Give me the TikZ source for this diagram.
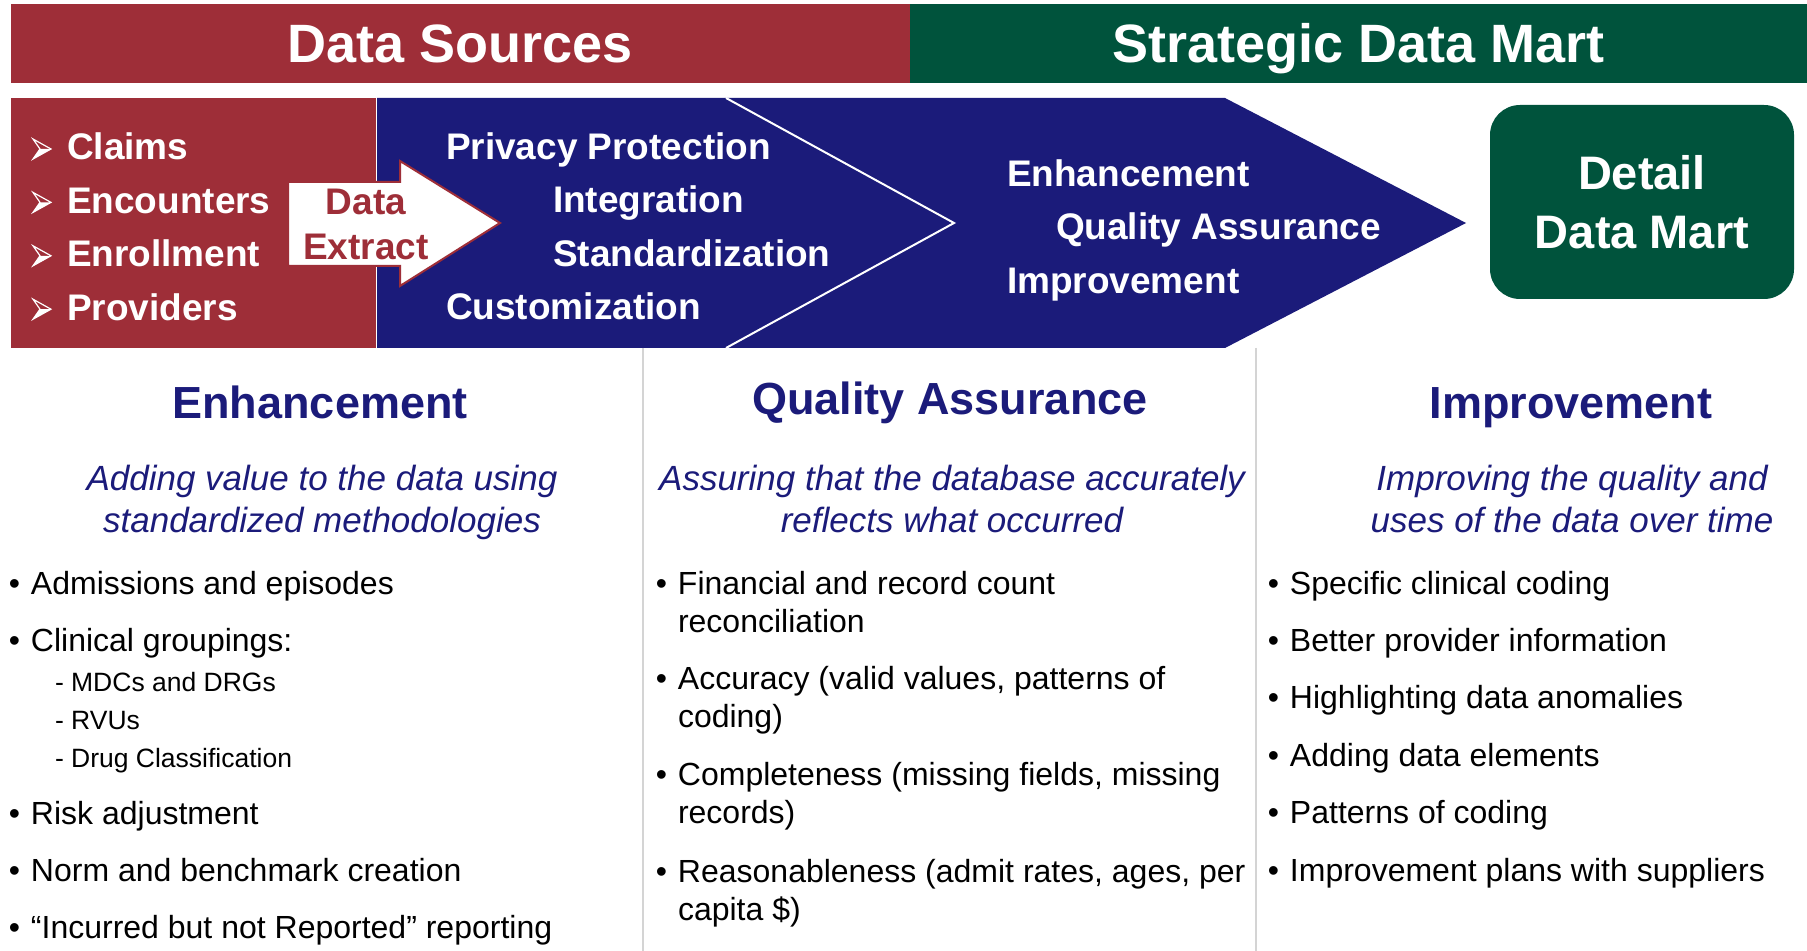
\documentclass[tikz,border=0pt]{standalone}
\usepackage{fontspec}
\setmainfont{Liberation Sans}
\usepackage{xcolor}
\usetikzlibrary{positioning}
\definecolor{SrcRed}{HTML}{9E2E38}
\definecolor{MartGreen}{HTML}{00533C}
\definecolor{FlowBlue}{HTML}{1B1B7A}
\definecolor{RuleGray}{HTML}{D4D4D4}

\begin{document}
\begin{tikzpicture}[x=0.5pt, y=-0.5pt,
    every node/.style={inner sep=0pt, outer sep=0pt},
    bannertext/.style={text=white, font=\fontsize{27}{32}\selectfont\bfseries,
                       text height=19.5pt, text depth=0pt, minimum height=39.5pt},
    boxtext/.style={anchor=base west, text=white, font=\fontsize{18.5}{22}\selectfont\bfseries},
    colhead/.style={anchor=base, text=FlowBlue, font=\fontsize{22.5}{27}\selectfont\bfseries},
    colsub/.style={anchor=base, align=center, text=FlowBlue, font=\fontsize{17.5}{20.75}\selectfont\itshape},
    bulletitem/.style={anchor=base west, align=left, font=\fontsize{16}{19}\selectfont},
    subitem/.style={anchor=base west, font=\fontsize{13.25}{16}\selectfont},
    sepline/.style={draw=RuleGray, line width=1pt},
    srcmark/.pic={
      \draw[white, line width=0.6pt, line join=miter] (-34,-21) -- (-16,-11) -- (-34,-1) -- (-27,-11) -- cycle;
      \fill[white] (-27,-11) -- (-16,-11) -- (-34,-1) -- cycle;
    }]
  \useasboundingbox (0,0) rectangle (1807,951);

  % header bars
  \node[bannertext, fill=SrcRed, minimum width=449.5pt] (srcbar) at (460.5,43.5) {Data Sources};
  \node[bannertext, fill=MartGreen, minimum width=448.5pt] (martbar) at (1358.5,43.5) {Strategic Data Mart};

  % source box, flow chevron, extract arrow
  \fill[SrcRed] (11,98) rectangle (375.5,348);
  \fill[FlowBlue] (377,98) -- (1225,98) -- (1466,223) -- (1225,348) -- (377,348) -- cycle;
  \draw[white, line width=1pt] (726,98) -- (954,223) -- (726,348);
  \filldraw[fill=white, draw=SrcRed, line width=1pt]
    (288,182) -- (400,182) -- (400,161) -- (500,223) -- (400,286) -- (400,266) -- (288,266) -- cycle;

  \node[boxtext] (claims) at (67,160) {Claims};
  \node[boxtext, below=26.7pt of claims.base west, anchor=base west] (encounters) {Encounters};
  \node[boxtext, below=26.7pt of encounters.base west, anchor=base west] (enrollment) {Enrollment};
  \node[boxtext, below=26.7pt of enrollment.base west, anchor=base west] (providers) {Providers};
  \pic at (claims.base west) {srcmark};
  \pic at (encounters.base west) {srcmark};
  \pic at (enrollment.base west) {srcmark};
  \pic at (providers.base west) {srcmark};

  % base of a multi-line node is its last line
  \node[anchor=base, align=center, text=SrcRed, font=\fontsize{18.5}{22.5}\selectfont\bfseries]
    (extract) at (366,260) {Data\\Extract};

  \node[boxtext] (privacy) at (446,160) {Privacy Protection};
  \node[boxtext] (integration) at (553,213) {Integration};
  \node[boxtext] (standard) at (553,266.5) {Standardization};
  \node[boxtext] (custom) at (446,320) {Customization};

  \node[boxtext] (enhance) at (1007,187) {Enhancement};
  \node[boxtext] (quality) at (1056,240) {Quality Assurance};
  \node[boxtext] (improve) at (1007,294) {Improvement};

  \node[fill=MartGreen, rounded corners=15pt, minimum width=152pt, minimum height=97pt,
        align=center, text=white, font=\fontsize{23.5}{29.5}\selectfont\bfseries]
    (mart) at (1642,202) {Detail\\Data Mart};

  % column rules
  \draw[sepline] (643,348) -- (643,951);
  \draw[sepline] (1256,348) -- (1256,951);

  % enhancement column
  \node[colhead] (enhhead) at (320,419) {Enhancement};
  \node[colsub] (enhsub) at (322,532) {Adding value to the data using\\standardized methodologies};
  \node[bulletitem] (admit) at (31,594) {\llap{•\hspace{5.5pt}}Admissions and episodes};
  \node[bulletitem, below=28.5pt of admit.base west, anchor=base west] (groups) {\llap{•\hspace{5.5pt}}Clinical groupings:};
  \node[subitem] (mdc) at (55,691) {- MDCs and DRGs};
  \node[subitem, below=19pt of mdc.base west, anchor=base west] (rvu) {- RVUs};
  \node[subitem, below=19pt of rvu.base west, anchor=base west] (drug) {- Drug Classification};
  \node[bulletitem] (risk) at (31,824) {\llap{•\hspace{5.5pt}}Risk adjustment};
  \node[bulletitem, below=28.7pt of risk.base west, anchor=base west] (norm) {\llap{•\hspace{5.5pt}}Norm and benchmark creation};
  \node[bulletitem, below=28.7pt of norm.base west, anchor=base west] (ibnr) {\llap{•\hspace{5.5pt}}“Incurred but not Reported” reporting};

  % quality assurance column
  \node[colhead] (qahead) at (950,415) {Quality Assurance};
  \node[colsub] (qasub) at (952,532) {Assuring that the database accurately\\reflects what occurred};
  \node[bulletitem] (recon) at (678,632) {\llap{•\hspace{5.5pt}}Financial and record count\\reconciliation};
  \node[bulletitem] (accur) at (678,727) {\llap{•\hspace{5.5pt}}Accuracy (valid values, patterns of\\coding)};
  \node[bulletitem] (complete) at (678,823) {\llap{•\hspace{5.5pt}}Completeness (missing fields, missing\\records)};
  \node[bulletitem] (reason) at (678,920) {\llap{•\hspace{5.5pt}}Reasonableness (admit rates, ages, per\\capita \$)};

  % improvement column
  \node[colhead] (imphead) at (1571,419) {Improvement};
  \node[colsub] (impsub) at (1572,532) {Improving the quality and\\uses of the data over time};
  \node[bulletitem] (coding) at (1290,594) {\llap{•\hspace{5.5pt}}Specific clinical coding};
  \node[bulletitem, below=28.7pt of coding.base west, anchor=base west] (provinfo) {\llap{•\hspace{5.5pt}}Better provider information};
  \node[bulletitem, below=28.7pt of provinfo.base west, anchor=base west] (anomaly) {\llap{•\hspace{5.5pt}}Highlighting data anomalies};
  \node[bulletitem, below=28.7pt of anomaly.base west, anchor=base west] (elements) {\llap{•\hspace{5.5pt}}Adding data elements};
  \node[bulletitem, below=28.7pt of elements.base west, anchor=base west] (patterns) {\llap{•\hspace{5.5pt}}Patterns of coding};
  \node[bulletitem, below=28.7pt of patterns.base west, anchor=base west] (plans) {\llap{•\hspace{5.5pt}}Improvement plans with suppliers};
\end{tikzpicture}
\end{document}
